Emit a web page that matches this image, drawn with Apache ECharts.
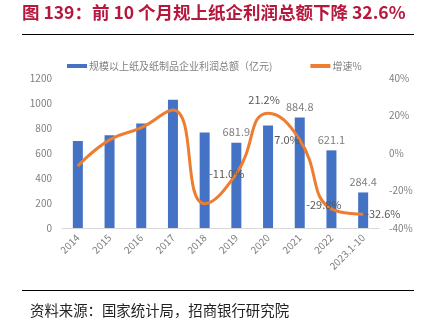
<!DOCTYPE html>
<html><head><meta charset="utf-8">
<script src="https://cdn.jsdelivr.net/npm/echarts@6/dist/echarts.min.js"></script>
<style>html,body{margin:0;padding:0;background:#fff}#c{width:430px;height:325px}</style>
</head><body><div id="c"></div>
<script>
const categories = ['2014','2015','2016','2017','2018','2019','2020','2021','2022','2023.1-10'];
const profit = [697, 742, 837, 1027, 765, 681.9, 821, 884.8, 621.1, 284.4];
const growth = [-7.0, 7.0, 13.5, 23.0, -27.0, -11.0, 21.2, 7.0, -29.8, -32.6];
const profitLabelShown = [false,false,false,false,false,true,false,true,true,true];
const growthLabelShown = [false,false,false,false,false,true,true,true,true,true];
const leftTicks = [0,200,400,600,800,1000,1200];
const rightTicks = [-40,-20,0,20,40];

const font = '"Noto Sans CJK SC", "Noto Sans", sans-serif';
const grey = '#7f7f7f';
const growthPos = ['left','left','left','left','left','left','top','left','left','right'];
const growthOffset = [[0,0],[0,0],[0,0],[0,0],[0,0],[10,0],[-4,-6],[2,0],[12,-4],[0,0]];

const chart = echarts.init(document.getElementById('c'), null, {renderer:'canvas'});
chart.setOption({
  animation:false,
  textStyle:{fontFamily:font},
  graphic:[
    {type:'text', left:22, top:4, style:{text:'图 139：前 10 个月规上纸企利润总额下降 32.6%', font:'bold 17.5px '+font, fill:'#B5173D'}},
    {type:'line', shape:{x1:22,y1:34.5,x2:414,y2:34.5}, style:{stroke:'#000',lineWidth:1}},
    {type:'line', shape:{x1:22,y1:290.5,x2:414,y2:290.5}, style:{stroke:'#000',lineWidth:1}},
    {type:'text', left:30, top:303, style:{text:'资料来源：国家统计局，招商银行研究院', font:'14.4px '+font, fill:'#222'}}
  ],
  legend:{
    top:56, left:62, itemGap:38, itemWidth:20, itemHeight:4,
    textStyle:{color:grey, fontSize:10, fontFamily:font, padding:[0,0,0,-3]},
    data:[{name:'规模以上纸及纸制品企业利润总额（亿元)', icon:'rect'},{name:'增速%', icon:'rect'}]
  },
  grid:{left:62, right:51, top:78, bottom:97},
  xAxis:{
    type:'category', data:categories,
    axisLine:{lineStyle:{color:'#d9d9d9'}}, axisTick:{show:false},
    axisLabel:{rotate:45, color:grey, fontSize:10, interval:0, margin:8}
  },
  yAxis:[
    {type:'value', min:0, max:1200, interval:200, splitLine:{show:false},
     axisLabel:{color:grey, fontSize:10, margin:10, formatter:v=>String(v)}, axisLine:{show:false}},
    {type:'value', min:-40, max:40, interval:20, splitLine:{show:false},
     axisLabel:{color:grey, fontSize:10, margin:10, formatter:'{value}%'}, axisLine:{show:false}}
  ],
  series:[
    {name:'规模以上纸及纸制品企业利润总额（亿元)', type:'bar', barWidth:10, itemStyle:{color:'#4472C4'},
     data: profit.map((v,i)=>({value:v, label:{show:profitLabelShown[i], position:'top', distance:5, color:grey, fontSize:11, formatter:v.toFixed(1)}}))},
    {name:'增速%', type:'line', yAxisIndex:1, smooth:0.5, symbol:'circle', symbolSize:0, showSymbol:true, z:3,
     lineStyle:{color:'#ED7D31', width:3}, itemStyle:{color:'#ED7D31'},
     data: growth.map((v,i)=>({value:v, label:{show:growthLabelShown[i], position:growthPos[i], offset:growthOffset[i], distance:2, color:'#595959', fontSize:11, formatter:v.toFixed(1)+'%'}}))}
  ]
});
</script></body></html>
